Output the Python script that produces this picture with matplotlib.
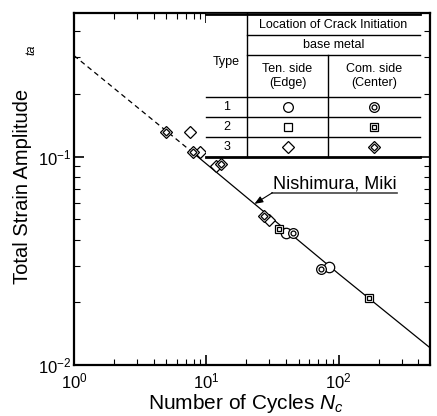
import matplotlib
matplotlib.use("Agg")
import matplotlib.pyplot as plt
from matplotlib.lines import Line2D
from matplotlib.patches import Rectangle

plt.rcParams['font.family'] = ['Liberation Sans', 'DejaVu Sans']
plt.rcParams['mathtext.fontset'] = 'custom'
plt.rcParams['mathtext.rm'] = 'Liberation Sans'
plt.rcParams['mathtext.it'] = 'Liberation Sans:italic'
plt.rcParams['mathtext.bf'] = 'Liberation Sans:bold'

# ---- data ----
open_circle_N = [40.1, 84.0]
open_circle_eps = [0.0431, 0.0297]
com_circle_N = [45.5, 73.6]
com_circle_eps = [0.0430, 0.0288]
com_square_N = [35.4, 170.0]
com_square_eps = [0.0449, 0.0209]
open_diamond_N = [7.49, 9.0, 11.9, 30.0]
open_diamond_eps = [0.131, 0.105, 0.0905, 0.0496]
com_diamond_N = [4.93, 7.93, 12.97, 27.5]
com_diamond_eps = [0.131, 0.105, 0.0923, 0.052]

fit_dash_N = [1.0, 8.0]
fit_dash_eps = [0.306, 0.104]
fit_solid_N = [8.0, 100.0, 490.0]
fit_solid_eps = [0.104, 0.0274, 0.0121]

table_header = ['Location of Crack Initiation', 'base metal', 'Type',
                'Ten. side\n(Edge)', 'Com. side\n(Center)']
row_labels = ['1', '2', '3']

fig = plt.figure(figsize=(4.37, 4.16), dpi=100)
W, H = 437, 416
L, R, T, B = 74, 430, 13, 365
ax = fig.add_axes([L / W, 1 - B / H, (R - L) / W, (B - T) / H])
ax.set_xscale('log')
ax.set_yscale('log')
ax.set_xlim(1, 490)
ax.set_ylim(0.01, 0.49)

for s in ax.spines.values():
    s.set_linewidth(1.6)
ax.tick_params(which='both', direction='in', top=True, right=True, labelsize=12)
ax.tick_params(which='major', length=7, width=1.2)
ax.tick_params(axis='x', which='major', pad=5)
ax.tick_params(axis='y', which='major', pad=2)
ax.tick_params(which='minor', length=4, width=0.8)

ax.plot(fit_dash_N, fit_dash_eps, color='black', lw=0.9, ls=(0, (4, 3)))
ax.plot(fit_solid_N, fit_solid_eps, color='black', lw=0.9)

mk = dict(ls='none', mfc='white', mec='black', mew=0.9)


def com_marker(axx, N, e, m, ms, ims):
    axx.plot(N, e, marker=m, ms=ms, **mk)
    axx.plot(N, e, marker=m, ms=ims, **mk)


ax.plot(open_circle_N, open_circle_eps, marker='o', ms=7.5, **mk)
com_marker(ax, com_circle_N, com_circle_eps, 'o', 7, 3.5)
com_marker(ax, com_square_N, com_square_eps, 's', 6, 3)
ax.plot(open_diamond_N, open_diamond_eps, marker='D', ms=6.5, **mk)
com_marker(ax, com_diamond_N, com_diamond_eps, 'D', 6.5, 3.5)

ax.set_xlabel(r'Number of Cycles $N_c$', fontsize=15, va='baseline')
ax.xaxis.set_label_coords(0.483, (B - 409) / (B - T))
ax.set_ylabel('Total Strain Amplitude', fontsize=14.5, va='center')
ax.yaxis.set_label_coords(-0.146, 0.508)
fig.text(31 / W, 1 - 50 / H, 'ta', fontsize=9, style='italic', rotation=90,
         ha='center', va='center')

# annotation
ax.annotate('', xy=(23.1, 0.0594), xytext=(31.6, 0.0672),
            arrowprops=dict(arrowstyle='-|>,head_length=0.5,head_width=0.2',
                            color='black', lw=0.8, shrinkA=0, shrinkB=0))
ax.plot([31.6, 276.5], [0.0672, 0.0672], color='#444444', lw=1.2)
ax.text(94.3, 0.0700, 'Nishimura, Miki', fontsize=13, ha='center', va='baseline')


# ---- table (figure pixel coords) ----
def fx(px):
    return px / W


def fy(py):
    return 1 - py / H


fig.add_artist(Rectangle((fx(206), fy(157)), fx(420) - fx(206), fy(13) - fy(157),
                         facecolor='white', edgecolor='none', zorder=5))


def hline(x0, x1, py, lw=1.0):
    fig.add_artist(Line2D([fx(x0), fx(x1)], [fy(py), fy(py)], color='black', lw=lw, zorder=6))


def vline(px, y0, y1, lw=1.0):
    fig.add_artist(Line2D([fx(px), fx(px)], [fy(y0), fy(y1)], color='black', lw=lw, zorder=6))


hline(206, 420, 13.5, 2.0)
hline(247, 420, 35, 1.0)
hline(247, 420, 55, 1.0)
hline(206, 420, 97, 1.0)
hline(206, 420, 117, 1.0)
hline(206, 420, 137, 1.0)
hline(206, 420, 157, 2.0)
vline(247, 13, 157)
vline(328, 55, 157)

tfs = 9
fig.text(fx(333.5), fy(25), table_header[0], fontsize=tfs, ha='center', va='center', zorder=7)
fig.text(fx(333.5), fy(45.5), table_header[1], fontsize=tfs, ha='center', va='center', zorder=7)
fig.text(fx(226.5), fy(62), table_header[2], fontsize=tfs, ha='center', va='center', zorder=7)
fig.text(fx(287.5), fy(76), table_header[3], fontsize=tfs, ha='center', va='center',
         linespacing=1.2, zorder=7)
fig.text(fx(374), fy(76), table_header[4], fontsize=tfs, ha='center', va='center',
         linespacing=1.2, zorder=7)
row_y = [107, 127, 147]
row_markers = ['o', 's', 'D']
row_ms = [7, 6, 6.5]
row_ims = [3.5, 3, 3.5]
for lab, py, m, ms, ims in zip(row_labels, row_y, row_markers, row_ms, row_ims):
    fig.text(fx(226.5), fy(py), lab, fontsize=tfs, ha='center', va='center', zorder=7)
    fig.add_artist(Line2D([fx(287.5)], [fy(py)], marker=m, ms=ms, zorder=7, **mk))
    fig.add_artist(Line2D([fx(374)], [fy(py)], marker=m, ms=ms, zorder=7, **mk))
    fig.add_artist(Line2D([fx(374)], [fy(py)], marker=m, ms=ims, zorder=7, **mk))

fig.savefig('out.png', dpi=100)
